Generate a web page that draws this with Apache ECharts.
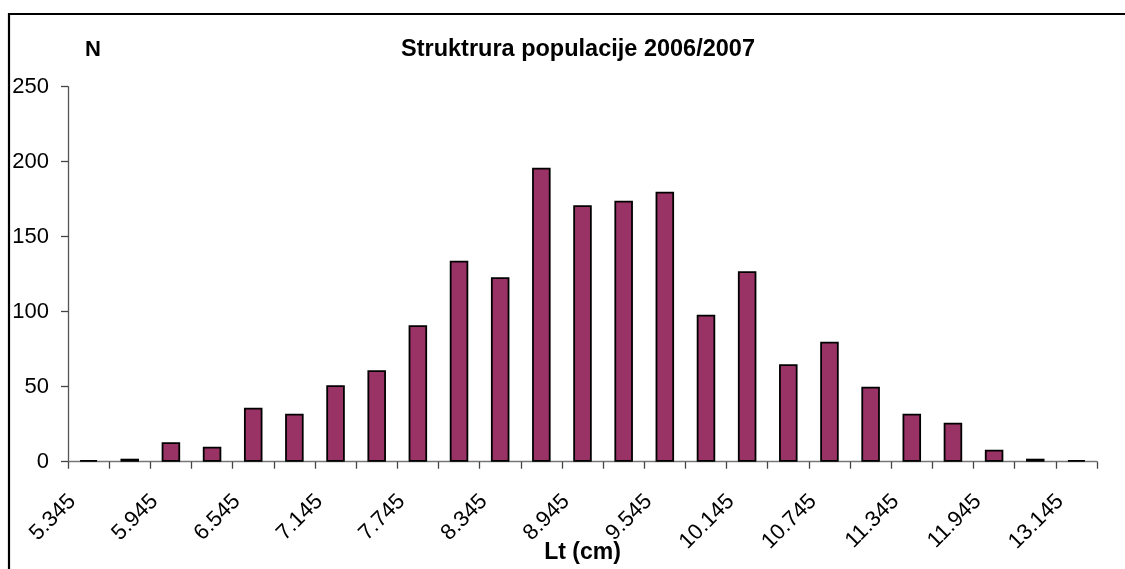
<!DOCTYPE html>
<html>
<head>
<meta charset="utf-8">
<script src="https://cdn.jsdelivr.net/npm/echarts@6/dist/echarts.min.js"></script>
<style>
html,body{margin:0;padding:0;background:#fff;overflow:hidden;}
#c{width:1125px;height:569px;}
</style>
</head>
<body>
<div id="c"></div>
<script>
const categories = ['5.345','5.645','5.945','6.245','6.545','6.845','7.145','7.445','7.745','8.045','8.345','8.645','8.945','9.245','9.545','9.845','10.145','10.445','10.745','11.045','11.345','11.645','11.945','12.545','13.145'];
const counts = [1,2,13,10,36,32,51,61,91,134,123,196,171,174,180,98,127,65,80,50,32,26,8,2,1];
const yTicks = {min:0, max:250, interval:50};
const titleText = 'Struktrura populacije 2006/2007';
const xName = 'Lt (cm)';
const yName = 'N';

const chart = echarts.init(document.getElementById('c'), null, {renderer:'canvas'});
const font = 'Arial, "Liberation Sans", Helvetica, sans-serif';
chart.setOption({
  animation:false,
  backgroundColor:'#fff',
  title:{
    text:titleText,
    left:573, top:45, textAlign:'center', textVerticalAlign:'middle',
    textStyle:{fontFamily:font, fontWeight:'bold', fontSize:23.5, color:'#000'}
  },
  graphic:[
    {type:'line', silent:true, shape:{x1:9,y1:14,x2:1125,y2:14}, style:{stroke:'#000', lineWidth:2.2}},
    {type:'line', silent:true, shape:{x1:9,y1:13,x2:9,y2:569}, style:{stroke:'#000', lineWidth:2.2}}
  ],
  grid:{left:68, right:28, top:86.7, bottom:107.3, containLabel:false, outerBoundsMode:'none'},
  xAxis:{
    type:'category', data:categories,
    name:xName, nameLocation:'middle', nameGap:91, nameMoveOverlap:false,
    nameTextStyle:{fontFamily:font, fontWeight:'bold', fontSize:23, color:'#000', verticalAlign:'middle'},
    axisLine:{lineStyle:{color:'#777', width:1.3}},
    axisTick:{show:true, interval:0, length:7, lineStyle:{color:'#444', width:1.3}},
    axisLabel:{interval:1, rotate:45, margin:20, padding:[0,23,0,0], fontFamily:font, fontSize:22, color:'#000'},
    splitLine:{show:false}
  },
  yAxis:{
    type:'value', min:yTicks.min, max:yTicks.max, interval:yTicks.interval,
    name:yName, nameLocation:'end', nameGap:37, nameMoveOverlap:false,
    nameTextStyle:{fontFamily:font, fontWeight:'bold', fontSize:22, color:'#000', align:'left', verticalAlign:'middle', padding:[0,0,0,17]},
    axisLine:{show:true, lineStyle:{color:'#555', width:1.3}},
    axisTick:{show:true, length:7, lineStyle:{color:'#444', width:1.3}},
    axisLabel:{margin:19, fontFamily:font, fontSize:22, color:'#000'},
    splitLine:{show:false}
  },
  series:[{
    type:'bar', data:counts, barWidth:'45%',
    itemStyle:{color:'#993366', borderColor:'#000', borderWidth:1.8}
  }]
});
</script>
</body>
</html>
